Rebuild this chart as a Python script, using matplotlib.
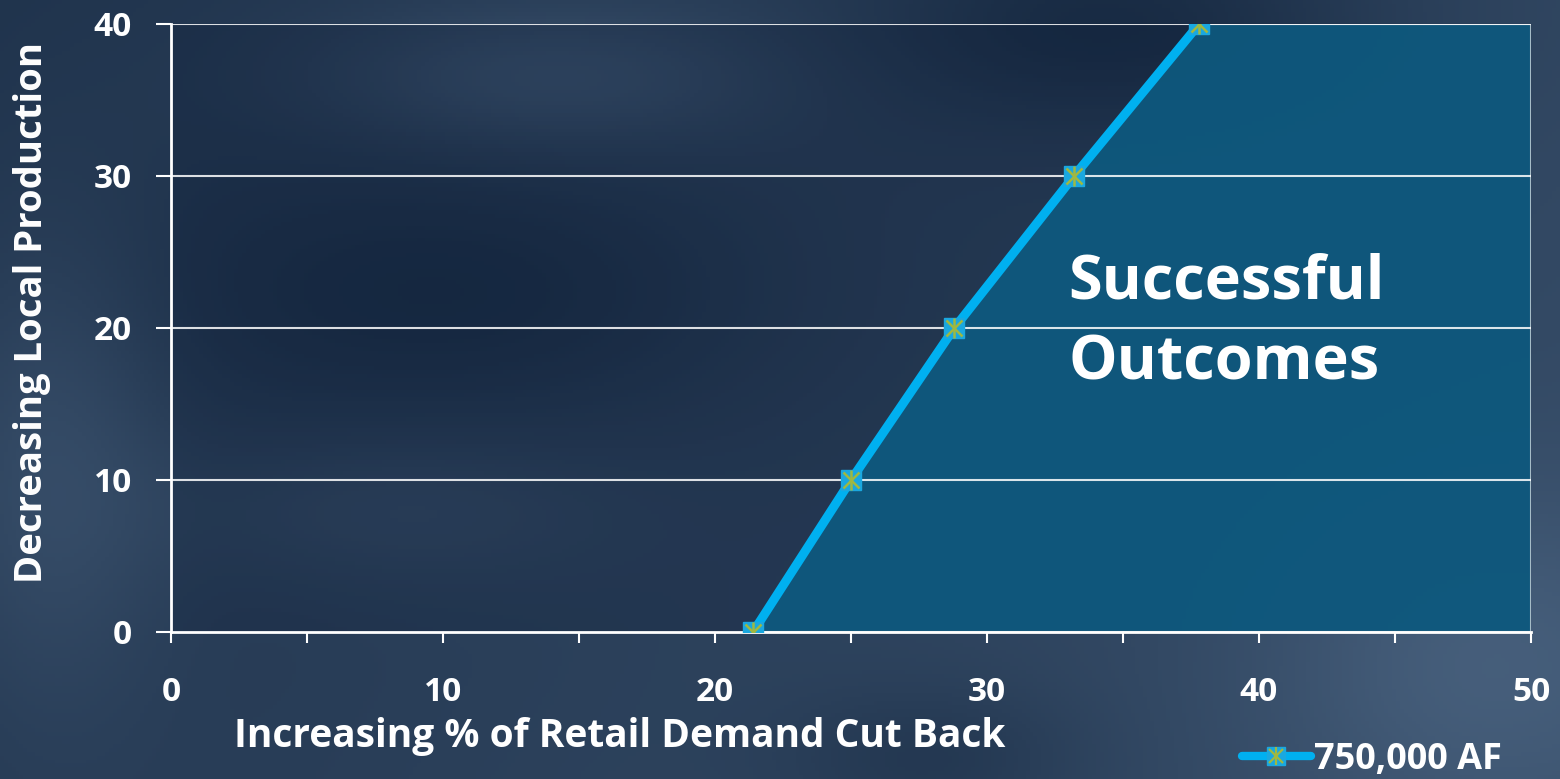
import numpy as np
import matplotlib
matplotlib.use("Agg")
import matplotlib.pyplot as plt
from matplotlib.lines import Line2D

# ---- data ----
cutback_pct = [21.4, 25.0, 28.8, 33.2, 37.8]
local_prod = [0, 10, 20, 30, 40]
series_label = "750,000 AF"
x_label = "Increasing % of Retail Demand Cut Back"
y_label = "Decreasing Local Production"
region_text = "Successful\nOutcomes"
x_ticks = [0, 10, 20, 30, 40, 50]
y_ticks = [0, 10, 20, 30, 40]

plt.rcParams['font.family'] = ['Open Sans', 'DejaVu Sans']
plt.rcParams['font.weight'] = 'bold'

W, H = 15.6, 7.79
fig = plt.figure(figsize=(W, H), dpi=100)

# background gradient
bg = fig.add_axes([0, 0, 1, 1], zorder=-10)
ny, nx = 200, 400
yy, xx = np.mgrid[0:1:ny*1j, 0:1:nx*1j]
c_dark = np.array([0x12, 0x24, 0x3c]) / 255
c_light = np.array([0x4a, 0x63, 0x80]) / 255
t = 0.35 + 0.3 * xx - 0.1 * yy
t += 0.35 * np.exp(-((xx - 0.35) ** 2 / 0.02 + (yy - 0.9) ** 2 / 0.008))
t += 0.3 * np.exp(-((xx - 0.95) ** 2 / 0.02 + (yy - 0.15) ** 2 / 0.05))
t += 0.3 * np.exp(-((xx - 0.03) ** 2 / 0.006 + (yy - 0.4) ** 2 / 0.1))
t += 0.2 * np.exp(-((xx - 0.25) ** 2 / 0.02 + (yy - 0.35) ** 2 / 0.01))
t -= 0.35 * np.exp(-((xx - 0.72) ** 2 / 0.03 + (yy - 0.97) ** 2 / 0.02))
t -= 0.25 * np.exp(-((xx - 0.3) ** 2 / 0.04 + (yy - 0.62) ** 2 / 0.03))
t -= 0.2 * np.exp(-((xx - 0.6) ** 2 / 0.01 + (yy - 0.02) ** 2 / 0.01))
t = np.clip(t, 0, 1)
img = c_dark[None, None, :] * (1 - t[..., None]) + c_light[None, None, :] * t[..., None]
bg.imshow(img, aspect='auto', extent=[0, 1, 0, 1], origin='lower')
bg.axis('off')

ax = fig.add_axes([171 / 1560, 1 - 632 / 779, 1360 / 1560, 608 / 779])
ax.set_facecolor((0.06, 0.12, 0.22, 0.3))
ax.set_xlim(0, 50)
ax.set_ylim(0, 40)

# successful region
fx = cutback_pct + [50, 50]
fy = local_prod + [40, 0]
ax.fill(fx, fy, color='#0d5a80', alpha=0.9, zorder=1, edgecolor='#b8c8d0', linewidth=1.5)

for yv in y_ticks[1:]:
    ax.axhline(yv, color='white', lw=1.5, zorder=2, alpha=0.85)

ax.plot(cutback_pct, local_prod, color='#00b0f0', lw=6.5, solid_capstyle='round', zorder=4)
ax.plot(cutback_pct, local_prod, linestyle='none', marker='s', ms=14, mfc='#1aa8e0',
        mec='#1aa8e0', zorder=5)
ax.plot(cutback_pct, local_prod, linestyle='none', marker='x', ms=11, mec='#a0b840',
        mew=1.8, zorder=6)
ax.plot(cutback_pct, local_prod, linestyle='none', marker='|', ms=14, mec='#a0b840',
        mew=1.8, zorder=6)

ax.text(33.0, 20.3, region_text, color='white', fontsize=44, fontweight='bold',
        va='center', ha='left', linespacing=1.45, zorder=7)

for s in ['top', 'right']:
    ax.spines[s].set_visible(False)
for s in ['left', 'bottom']:
    ax.spines[s].set_color('white')
    ax.spines[s].set_linewidth(2)

ax.set_xticks(x_ticks)
ax.set_xticks(np.arange(5, 50, 10), minor=True)
ax.set_yticks(y_ticks)
ax.tick_params(axis='both', which='both', colors='white', direction='out', width=1.5)
ax.tick_params(axis='x', which='both', length=8, pad=24, labelsize=24)
ax.tick_params(axis='y', length=11, pad=17, labelsize=24)
for lab in ax.get_xticklabels() + ax.get_yticklabels():
    lab.set_fontweight('bold')

ax.set_xlabel(x_label, color='white', fontsize=28, fontweight='bold')
ax.xaxis.set_label_coords(0.33, -0.14)
ax.set_ylabel(y_label, color='white', fontsize=27.5, fontweight='bold')
ax.yaxis.set_label_coords(-0.088, 0.526)

handle = Line2D([0], [0], color='#00b0f0', lw=6, marker='s', ms=13, mfc='#1aa8e0',
                mec='#1aa8e0', solid_capstyle='round')
h2 = Line2D([0], [0], linestyle='none', marker='x', ms=10, mec='#a0b840', mew=1.6)
h3 = Line2D([0], [0], linestyle='none', marker='|', ms=13, mec='#a0b840', mew=1.6)
leg = fig.legend([(handle, h2, h3)], [series_label], loc='center',
                 bbox_to_anchor=(1372 / 1560, 1 - 760 / 779),
                 frameon=False, handlelength=1.9, handletextpad=0.1,
                 labelcolor='white', prop={'weight': 'bold', 'size': 26})

fig.savefig('out.png', dpi=100)
